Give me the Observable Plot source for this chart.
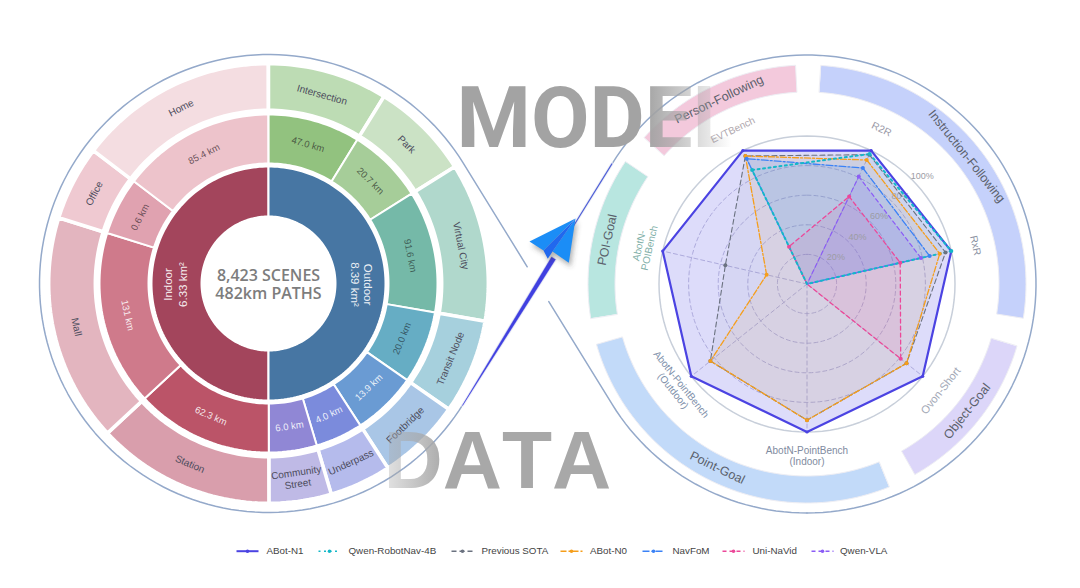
<!DOCTYPE html>
<html><head><meta charset="utf-8">
<script src="https://cdn.jsdelivr.net/npm/d3@7"></script>
<script src="https://cdn.jsdelivr.net/npm/@observablehq/plot@0.6"></script>
<style>html,body{margin:0;padding:0;background:#fff}svg{display:block}</style>
</head><body><div id="chart"></div>
<script>
const FONT = '"Liberation Sans", Arial, sans-serif';
// --- sunburst (left): segment spans in degrees clockwise from 12 o'clock
const sceneNames = ["Intersection","Park","Virtual City","Transit Node","Footbridge","Underpass","Community\nStreet","Station","Mall","Office","Home"];
const sceneKm = ["47.0 km","20.7 km","91.6 km","20.0 km","13.9 km","4.0 km","6.0 km","62.3 km","131 km","0.6 km","85.4 km"];
const sceneSpans = [31.7,26.2,42,25,22.2,16.3,16.5,47.2,60.3,19.8,52.7];
const outerColors = ["#bddcb4","#cbe2c5","#b0d8cc","#a6d0dd","#a9c6e6","#b5bbec","#bfbae6","#d99eac","#e3b5bf","#efc9d1","#f4dde1"];
const middleColors = ["#92c27f","#a6cd99","#75b9a8","#66adc4","#6a9bd3","#7b8bdc","#9087d5","#bb5468","#cf7a8b","#e0a2b0","#edc3cb"];
const kmTextColors = ["#3f4a3a","#3f4a3a","#35504a","#2f4a55","#fff","#fff","#fff","#fff","#fff","#554048","#554048"];
// --- radar (right)
const axes = ["R2R","RxR","Ovon-Short","AbotN-PointBench\n(Indoor)","AbotN-PointBench\n(Outdoor)","AbotN-\nPOIBench","EVTBench"];
const axisColors = ["#9a9aa8","#8c93a3","#a2a8b6","#7f8ba0","#8090aa","#7fafa8","#b0a8ae"];
const axisFont = [10.3,10.3,11,10,10,10,10];
const axisLabelRadius = [172,173,171,172,166,167,171];
const ticks = [20,40,60,80,100];
const seriesNames = ["ABot-N1","Qwen-RobotNav-4B","Previous SOTA","ABot-N0","NavFoM","Uni-NaVid","Qwen-VLA"];
const seriesColors = ["#4b43e2","#14b8c8","#6b7280","#f59e1b","#3b82f6","#ec4899","#8b5cf6"];
const seriesDash = ["none","2 3.5","5 3","6 2 2 2","7 2 2 2","4 3","4 3"];
const seriesWidth = [2.2,2,1.1,1.3,1.3,1.3,1.2];
const n1 = [100,100,100,100,100,100,100];
const robotNav = [97.5,100,0,0,0,0,85.5];
const sota = [97,96,86,92,83.5,56.6,96];
const n0 = [93,92,86,92,83.5,28,96];
const navfom = [87,85,0,0,0,0,94];
const uni = [65.6,64.6,81,0,0,0,28];
const vla = [80.6,79,0,0,0,0,0];
const seriesValues = [n1,robotNav,sota,n0,navfom,uni,vla];
const fillOpacity = [0.19,0.05,0.06,0.07,0.13,0.11,0.13];
const drawOrder = [0,2,3,4,5,6,1];
// task bands around radar: [start, end] degrees
const bandNames = ["Instruction-Following","Object-Goal","Point-Goal","POI-Goal","Person-Following"];
const bandSpans = [[3.7,99],[106.5,150.5],[158,254],[261,304],[312,357]];
const bandColors = ["#c5d1fb","#dcd6f9","#c2daf9","#b8e6e0","#f3c9dc"];
// legend
const legendLineStart = [236,318,451,560,642,722,811];
const legendTextStart = [266,348,481,589.5,672,752,839.5];

const L = {x:268,y:283}, R = {x:806.5,y:283.5};
const RAD = Math.PI/180;
const pol = (c,deg,r)=>({x:c.x+r*Math.sin(deg*RAD), y:c.y-r*Math.cos(deg*RAD)});
function wedge(id,c,a0,a1,r0,r1,color){
  const n = Math.max(2,Math.ceil((a1-a0)/1.5));
  const outer = d3.range(n+1).map(i=>pol(c,a0+(a1-a0)*i/n,r1));
  const inner = d3.range(n+1).map(i=>pol(c,a1-(a1-a0)*i/n,r0));
  return [...outer,...inner].map(p=>({...p,id,color}));
}
const labelRot = a => (a>90&&a<270) ? a-180 : (a>=270 ? a-360 : a);

// sunburst rows
let cum = 0; const seg = sceneSpans.map((s,i)=>{const o={a0:cum,a1:cum+s,i};cum+=s;return o;});
const coreWedges = [...wedge("in",L,180,360,67,117,"#a3455c"), ...wedge("out",L,0,180,67,117,"#4776a3")];
const midWedges = seg.flatMap(s=>wedge("m"+s.i,L,s.a0,s.a1,120,169,middleColors[s.i]));
const outerWedges = seg.flatMap(s=>wedge("o"+s.i,L,s.a0,s.a1,173.2,219.8,outerColors[s.i]));
const bandRows = bandNames.flatMap((b,i)=>wedge("b"+i,R,bandSpans[i][0],bandSpans[i][1],192,219,bandColors[i]));
const sceneLabels = seg.map(s=>{const m=(s.a0+s.a1)/2;return {...pol(L,m,196.5),rot:labelRot(m),t:sceneNames[s.i]};});
const kmLabels = seg.map(s=>{const m=(s.a0+s.a1)/2;return {...pol(L,m,144.5),rot:labelRot(m),t:sceneKm[s.i],c:kmTextColors[s.i]};});
const bandLabels = bandNames.map((b,i)=>{const m=(bandSpans[i][0]+bandSpans[i][1])/2;return {...pol(R,m,204.5),rot:labelRot(m),t:b};});

// infinity outline
const circleArc = (c,a0,a1,r)=>{const n=Math.ceil(Math.abs(a1-a0)/2);return d3.range(n+1).map(i=>pol(c,a0+(a1-a0)*i/n,r));};
const rOut = 229, cross = {x:(L.x+R.x)/2,y:283.3};
const tanAng = Math.acos(rOut/(cross.x-L.x))/RAD;
const bearing = tanAng;
const outlineRows = [
  [...circleArc(L,90+tanAng,360+90-tanAng,rOut), pol(cross,-bearing,20)],
  [pol(cross,180-bearing,21), ...circleArc(R,270-tanAng,180,rOut)],
  [pol(cross,bearing,120), ...circleArc(R,270+tanAng,360+180,rOut)]
].flatMap((pts,id)=>pts.map(p=>({...p,id})));
// blue rising stroke: tapered band along the crossing tangent
const perp = {x:Math.cos(bearing*RAD),y:Math.sin(bearing*RAD)};
const along = (d,w)=>{const p=pol(cross,bearing,d);return {x:p.x+perp.x*w,y:p.y+perp.y*w};};
const taperSteps = [[-143,0.1],[-100,0.6],[-60,1.2],[-20,1.7],[30,2.3]];
const taper = [...taperSteps.map(([d,w])=>along(d,w)),...taperSteps.slice().reverse().map(([d,w])=>along(d,-w))];
const upperThin = [along(60,0),along(141,0)];
// paper plane, points in chart units
const planeOutline = [[575,218],[529,241],[543,250],[547.3,258.3],[552,251],[568.3,262.3]].map(([x,y])=>({x,y}));
const planeLeftWing = [[575,218],[529,241],[543,250]].map(([x,y])=>({x,y}));
const planeRightWing = [[575,218],[552,251],[568.3,262.3]].map(([x,y])=>({x,y}));
const planeFold = [[575,218],[543,250],[547.3,258.3],[552,251]].map(([x,y])=>({x,y}));

// radar rows
const angleOf = i => i*360/7 + 180/7;
const seriesRows = seriesNames.map((name,s)=>axes.map((_,i)=>{
  const v=seriesValues[s][i]; return {...pol(R,angleOf(i),v*1.48),v,name};
}));
const spokeRows = axes.flatMap((_,i)=>[{...R,id:i},{...pol(R,angleOf(i),148),id:i}]);
const ringRows = ticks.flatMap(t=>d3.range(0,361,3).map(a=>({...pol(R,a,t*1.48),t})));
const axisLabels = axes.map((t,i)=>({...pol(R,angleOf(i),axisLabelRadius[i]),rot:i==3?0:labelRot(angleOf(i)),t,c:axisColors[i],f:axisFont[i]}));
const tickLabels = ticks.map(t=>({...pol(R,46.8,t*1.48+10),t:t+"%"}));

const legendRows = seriesNames.map((n,i)=>({n,x1:legendLineStart[i],x2:legendLineStart[i]+22,xm:legendLineStart[i]+11,xt:legendTextStart[i],c:seriesColors[i],d:seriesDash[i],w:i==0?2:1.4,y:550.7}));

const defs = () => {
  const s = d3.create("svg:defs");
  // gradients live in each word's own coordinates (origin at the word's start)
  const g1 = s.append("linearGradient").attr("id","fadeR").attr("gradientUnits","userSpaceOnUse").attr("x1",189).attr("x2",275).attr("y1",0).attr("y2",0);
  g1.append("stop").attr("offset",0).attr("stop-color","#a3a3a3").attr("stop-opacity",1);
  g1.append("stop").attr("offset",1).attr("stop-color","#a3a3a3").attr("stop-opacity",0);
  const g2 = s.append("linearGradient").attr("id","fadeL").attr("gradientUnits","userSpaceOnUse").attr("x1",0).attr("x2",62).attr("y1",0).attr("y2",0);
  g2.append("stop").attr("offset",0).attr("stop-color","#a8a8a8").attr("stop-opacity",0.3);
  g2.append("stop").attr("offset",1).attr("stop-color","#a8a8a8").attr("stop-opacity",1);
  const f = s.append("filter").attr("id","soft").attr("x","-40%").attr("y","-40%").attr("width","180%").attr("height","180%");
  f.append("feGaussianBlur").attr("stdDeviation",2.5);
  return s.node();
};
const noKerning = (i,sc,v,d,ctx,next)=>{const g=next(i,sc,v,d,ctx);g.style.fontKerning="none";return g;};

const chart = Plot.plot({
  width:1080,height:588,margin:0,
  x:{domain:[0,1080],range:[0,1080],axis:null},
  y:{domain:[0,588],range:[0,588],axis:null},
  color:{type:"identity"},
  style:{background:"#fff",fontFamily:FONT},
  marks:[
    defs,
    // infinity outline
    Plot.line(outlineRows,{x:"x",y:"y",z:"id",stroke:"#94a9ca",strokeWidth:1.5}),
    // sunburst
    Plot.line(outerWedges,{x:"x",y:"y",z:"id",fill:"color",stroke:"#fff",strokeWidth:3.5,curve:"linear-closed"}),
    Plot.line(midWedges,{x:"x",y:"y",z:"id",fill:"color",stroke:"#fff",strokeWidth:2,curve:"linear-closed"}),
    Plot.line(coreWedges,{x:"x",y:"y",z:"id",fill:"color",stroke:"#fff",strokeWidth:2,curve:"linear-closed"}),
    Plot.text(sceneLabels,{x:"x",y:"y",text:"t",rotate:"rot",fontSize:10,lineHeight:1.15,fill:"#4c4c5c"}),
    Plot.text(kmLabels,{x:"x",y:"y",text:"t",rotate:"rot",fontSize:9.5,fill:"c",fillOpacity:0.88}),
    Plot.text([{x:168,y:284,t:"Indoor"},{x:183,y:284,t:"6.33 km²"}],{x:"x",y:"y",text:"t",rotate:-90,fontSize:11.5,fill:"#fff",fillOpacity:.9}),
    Plot.text([{x:367,y:284,t:"Outdoor"},{x:354,y:284,t:"8.39 km²"}],{x:"x",y:"y",text:"t",rotate:90,fontSize:11.5,fill:"#fff",fillOpacity:.9}),
    Plot.text([{x:268,y:283.5,t:"8,423 SCENES\n482km PATHS"}],{x:"x",y:"y",text:"t",fontSize:16,lineHeight:1.15,fontWeight:600,fontFamily:'"Open Sans"',fill:"#7d7d7d"}),
    // bands
    Plot.line(bandRows,{x:"x",y:"y",z:"id",fill:"color",stroke:"#eeeef4",strokeWidth:1,curve:"linear-closed"}),
    Plot.text(bandLabels,{x:"x",y:"y",text:"t",rotate:"rot",fontSize:12.5,fill:"#5a5f6b"}),
    // radar grid
    Plot.line(ringRows.filter(d=>d.t<100),{x:"x",y:"y",z:"t",stroke:"#bdbbd6",strokeWidth:0.9,strokeDasharray:"4 3"}),
    Plot.line(ringRows.filter(d=>d.t==100),{x:"x",y:"y",z:"t",stroke:"#c8cfda",strokeWidth:1.5}),
    Plot.line(spokeRows,{x:"x",y:"y",z:"id",stroke:"#bdbbd6",strokeWidth:0.9,strokeDasharray:"4 3"}),
    // radar series
    ...drawOrder.map(s=>Plot.line(seriesRows[s],{x:"x",y:"y",curve:"linear-closed",fill:seriesColors[s],fillOpacity:fillOpacity[s],stroke:"none"})),
    Plot.text(tickLabels,{x:"x",y:"y",text:"t",fontSize:9,fill:"#9c9ca4"}),
    ...drawOrder.map(s=>Plot.line(seriesRows[s],{x:"x",y:"y",curve:"linear-closed",stroke:seriesColors[s],strokeWidth:seriesWidth[s],strokeDasharray:seriesDash[s]=="none"?null:seriesDash[s]})),
    ...drawOrder.map(s=>Plot.dot(seriesRows[s].filter(d=>d.v>0),{x:"x",y:"y",r:s==0?1.6:2,fill:seriesColors[s]})),
    Plot.text(axisLabels,{x:"x",y:"y",text:"t",rotate:"rot",fontSize:"f",lineHeight:1.05,fill:"c"}),
    // blue rising stroke with halo
    Plot.line(taper,{x:"x",y:"y",stroke:"#eef0f6",strokeWidth:2.5,curve:"linear-closed"}),
    Plot.line(taper,{x:"x",y:"y",fill:"#4040e0",stroke:"#4040e0",strokeWidth:0.4,curve:"linear-closed"}),
    Plot.line(upperThin,{x:"x",y:"y",stroke:"#eef0f6",strokeWidth:3}),
    Plot.line(upperThin,{x:"x",y:"y",stroke:"#5060d8",strokeWidth:1.2}),
    // paper plane
    Plot.line(planeOutline,{x:"x",y:"y",curve:"linear-closed",fill:"#444",fillOpacity:.4,dx:2,dy:4,render:(i,sc,v,d,ctx,next)=>{const g=next(i,sc,v,d,ctx);g.setAttribute("filter","url(#soft)");return g;}}),
    Plot.line(planeLeftWing,{x:"x",y:"y",curve:"linear-closed",fill:"#1b8df6"}),
    Plot.line(planeRightWing,{x:"x",y:"y",curve:"linear-closed",fill:"#1b8df6"}),
    Plot.line(planeFold,{x:"x",y:"y",curve:"linear-closed",fill:"#2168ee"}),
    // overlay words
    Plot.text([{x:456,y:119,t:"MODEL"}],{x:"x",y:"y",text:"t",textAnchor:"start",fontSize:85,fontWeight:700,fontFamily:'Roboto',fill:"url(#fadeR)"}),
    Plot.text([{x:383,y:461,t:"DATA"}],{x:"x",y:"y",text:"t",textAnchor:"start",fontSize:82,fontWeight:700,fontFamily:FONT,fill:"url(#fadeL)",render:noKerning}),
    // legend
    ...legendRows.map(l=>Plot.link([l],{x1:"x1",x2:"x2",y1:"y",y2:"y",stroke:l.c,strokeWidth:l.w,strokeDasharray:l.d=="none"?null:l.d})),
    Plot.dot(legendRows,{x:"xm",y:"y",r:1.8,fill:"c"}),
    Plot.text(legendRows,{x:"xt",y:"y",text:"n",textAnchor:"start",fontSize:9.8,fill:"#444"})
  ]
});
document.getElementById("chart").append(chart);
</script></body></html>
